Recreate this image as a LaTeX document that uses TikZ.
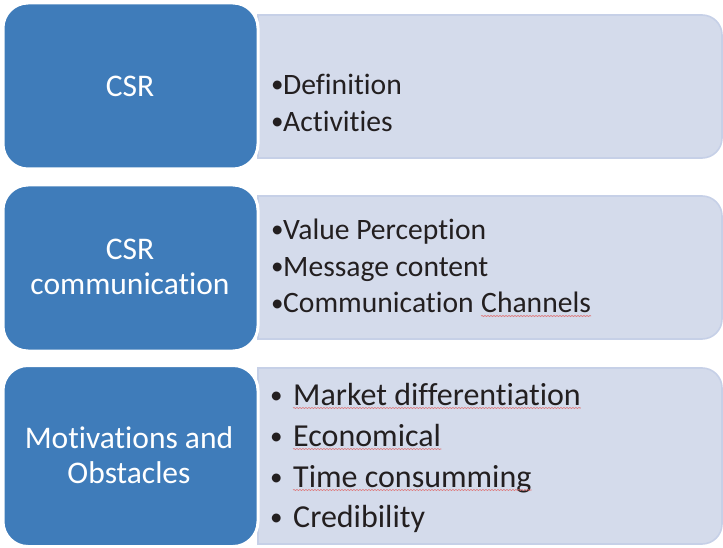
\documentclass[tikz,border=0pt]{standalone}
\usepackage{fontspec}
\setmainfont{Carlito}[Ligatures={NoCommon,NoContextual}]
\usetikzlibrary{decorations.pathmorphing}
\definecolor{bluebox}{HTML}{3F7CBA}
\definecolor{lightfill}{HTML}{D4DBEB}
\definecolor{lightline}{HTML}{C6D0E7}
\definecolor{txtdark}{HTML}{231F20}
\definecolor{spellred}{HTML}{E06A6A}
\tikzset{
  bluenode/.style={draw=white, line width=3pt, fill=bluebox, rounded corners=25pt,
    minimum width=255pt, inner sep=0pt, text=white},
  lightpath/.style={fill=lightfill, draw=lightline, line width=1.6pt},
  lbl/.style={anchor=base, inner sep=0pt, text=white, font=\fontsize{31.5}{35}\selectfont},
  itemA/.style={anchor=base west, inner sep=0pt, text=txtdark, font=\fontsize{29.6}{34}\selectfont},
  itemB/.style={anchor=base west, inner sep=0pt, text=txtdark, font=\fontsize{32}{36}\selectfont},
  bul/.style={anchor=base west, inner sep=0pt, text=txtdark, font=\fontsize{25}{30}\selectfont},
  spell/.style={draw=spellred, line width=0.6pt, decorate,
    decoration={snake, amplitude=0.5pt, segment length=3pt}}
}
\begin{document}
\begin{tikzpicture}[x=1pt,y=1pt]
\useasboundingbox (0,0) rectangle (723,547);
% light boxes
\path[lightpath] (258,532) -- (702,532) arc[start angle=90,end angle=0,radius=20] -- (722,409) arc[start angle=0,end angle=-90,radius=20] -- (258,389) -- cycle;
\path[lightpath] (258,351) -- (702,351) arc[start angle=90,end angle=0,radius=20] -- (722,228) arc[start angle=0,end angle=-90,radius=20] -- (258,208) -- cycle;
\path[lightpath] (258,179) -- (702,179) arc[start angle=90,end angle=0,radius=20] -- (722,23) arc[start angle=0,end angle=-90,radius=20] -- (258,3) -- cycle;
% blue boxes
\node[bluenode, minimum height=166pt] (b1) at (130.5,461) {};
\node[bluenode, minimum height=166pt] (b2) at (130.5,279) {};
\node[bluenode, minimum height=181pt] (b3) at (130.5,91) {};
% left labels
\node[lbl] (l1) at (130,450) {CSR};
\node[lbl] (l2a) at (130,287) {CSR};
\node[lbl] (l2b) at (130,252) {communication};
\node[lbl] (l3a) at (129,99) {Motivations and};
\node[lbl] (l3b) at (129,64) {Obstacles};
% row 1 items
\node[bul] (p1) at (271,454) {•};
\node[itemA] (t1) at (283,452) {Definition};
\node[bul] (p2) at (271,417) {•};
\node[itemA] (t2) at (283,415) {Activities};
% row 2 items
\node[bul] (p3) at (271,309) {•};
\node[itemA] (t3) at (283,307) {Value Perception};
\node[bul] (p4) at (271,272) {•};
\node[itemA] (t4) at (283,270) {Message content};
\node[bul] (p5) at (271,236) {•};
\node[itemA] (t5) at (283,234) {Communication};
\node[itemA, anchor=base west] (t5b) at ([xshift=7pt]t5.base east) {Channels};
% row 3 items
\node[bul] (p6) at (270,144) {•};
\node[itemB] (t6) at (293,142) {Market differentiation};
\node[bul] (p7) at (270,103) {•};
\node[itemB] (t7) at (293,101) {Economical};
\node[bul] (p8) at (270,62) {•};
\node[itemB] (t8) at (293,60) {Time consumming};
\node[bul] (p9) at (270,22) {•};
\node[itemB] (t9) at (293,20) {Credibility};
% spell-check underlines
\draw[spell] ([yshift=-3pt]t5b.base west) -- ([yshift=-3pt]t5b.base east);
\draw[spell] ([yshift=-3pt]t6.base west) -- ([yshift=-3pt]t6.base east);
\draw[spell] ([yshift=-3pt]t7.base west) -- ([yshift=-3pt]t7.base east);
\draw[spell] ([yshift=-3pt]t8.base west) -- ([yshift=-3pt]t8.base east);
\end{tikzpicture}
\end{document}
